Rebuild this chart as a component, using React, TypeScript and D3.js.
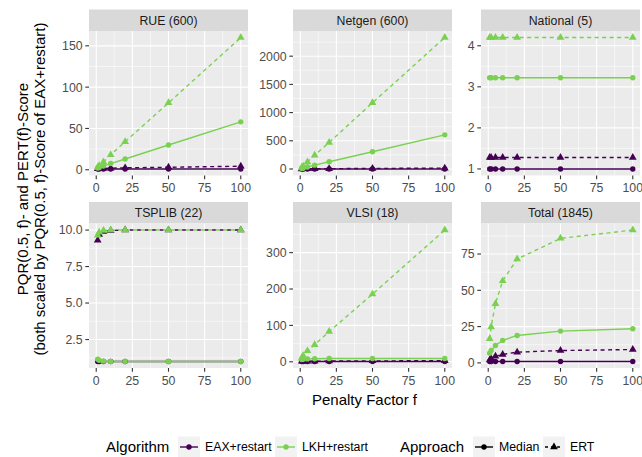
import React from 'react';
import * as d3 from 'd3';

const penaltyFactors = [1, 2, 5, 10, 20, 50, 100];
const facetTitles = ['RUE (600)', 'Netgen (600)', 'National (5)', 'TSPLIB (22)', 'VLSI (18)', 'Total (1845)'];
const algorithms = ['EAX+restart', 'LKH+restart'];
const approaches = ['Median', 'ERT'];
const xTicks = [0, 25, 50, 75, 100];

// RUE (600)
const rueEaxMedian = [1, 1, 1, 1, 1, 1, 1];
const rueEaxErt = [1.3, 1.4, 1.6, 1.9, 2.3, 3.0, 4.3];
const rueLkhMedian = [2, 2.6, 4.5, 7.5, 13, 30, 58];
const rueLkhErt = [3, 5, 9.5, 18, 34, 81, 160];
const rueTicks = [0, 50, 100, 150];

// Netgen (600)
const netgenEaxMedian = [1, 1, 1, 1, 1, 1, 1];
const netgenEaxErt = [1.5, 2, 3, 4, 6, 10, 15];
const netgenLkhMedian = [8, 14, 34, 68, 128, 305, 605];
const netgenLkhErt = [25, 50, 125, 245, 470, 1175, 2330];
const netgenTicks = [0, 500, 1000, 1500, 2000];

// National (5)
const nationalEaxMedian = [1, 1, 1, 1, 1, 1, 1];
const nationalEaxErt = [1.28, 1.28, 1.28, 1.28, 1.28, 1.28, 1.28];
const nationalLkhMedian = [3.22, 3.22, 3.22, 3.22, 3.22, 3.22, 3.22];
const nationalLkhErt = [4.2, 4.2, 4.2, 4.2, 4.2, 4.2, 4.2];
const nationalTicks = [1, 2, 3, 4];

// TSPLIB (22)
const tsplibEaxMedian = [1, 1, 1, 1, 1, 1, 1];
const tsplibEaxErt = [9.3, 9.7, 9.9, 9.97, 10, 10, 10];
const tsplibLkhMedian = [1.15, 1.08, 1.02, 1.0, 1.0, 1.0, 1.0];
const tsplibLkhErt = [9.65, 9.85, 9.97, 10, 10, 10, 10];
const tsplibTicks = [2.5, 5.0, 7.5, 10.0];

// VLSI (18)
const vlsiEaxMedian = [1, 1, 1, 1, 1, 1, 1];
const vlsiEaxErt = [1.2, 1.3, 1.5, 1.8, 2.0, 2.5, 3];
const vlsiLkhMedian = [6, 7, 8, 8.5, 9, 9, 9];
const vlsiLkhErt = [10, 17, 30, 47, 83, 186, 362];
const vlsiTicks = [0, 100, 200, 300];

// Total (1845)
const totalEaxMedian = [1, 1, 1, 1, 1, 1, 1];
const totalEaxErt = [2, 3, 4.6, 5.8, 7.4, 8.5, 9.2];
const totalLkhMedian = [6.7, 8.5, 12, 15.5, 18.9, 21.9, 23.5];
const totalLkhErt = [16.6, 24.7, 40.8, 56.5, 71.5, 85.8, 91.5];
const totalTicks = [0, 25, 50, 75];

const facetSeries = [
  [rueEaxMedian, rueEaxErt, rueLkhMedian, rueLkhErt],
  [netgenEaxMedian, netgenEaxErt, netgenLkhMedian, netgenLkhErt],
  [nationalEaxMedian, nationalEaxErt, nationalLkhMedian, nationalLkhErt],
  [tsplibEaxMedian, tsplibEaxErt, tsplibLkhMedian, tsplibLkhErt],
  [vlsiEaxMedian, vlsiEaxErt, vlsiLkhMedian, vlsiLkhErt],
  [totalEaxMedian, totalEaxErt, totalLkhMedian, totalLkhErt],
];
const facetTicks = [rueTicks, netgenTicks, nationalTicks, tsplibTicks, vlsiTicks, totalTicks];

const COLORS = ['#440154', '#7AD151'];
const FONT = '"Liberation Sans", Arial, Helvetica, sans-serif';
const DASH = '4,3.5';
const SMALL = 12.3;
const TITLE = 15;

const triPath = d3.symbol(d3.symbolTriangle, 26)() as string;

function minorOf(ticks: number[], lo: number, hi: number) {
  const step = ticks[1] - ticks[0];
  const out: number[] = [];
  for (let i = -1; i < ticks.length; i++) {
    const m = ticks[0] + step * i + step / 2;
    if (m >= lo && m <= hi) out.push(m);
  }
  return out;
}

function Panel({ idx, left, stripTop }: { idx: number; left: number; stripTop: number }) {
  const pw = 159;
  const sh = 21.5;
  const ph = 144.5;
  const top = stripTop + sh;
  const bottom = top + ph;
  const series = facetSeries[idx];
  const ticks = facetTicks[idx];
  const all = series.flat();
  const [mn, mx] = d3.extent(all) as [number, number];
  const pad = (mx - mn) * 0.05 || 0.1;
  const y = d3.scaleLinear().domain([mn - pad, mx + pad]).range([bottom, top]);
  const x = d3.scaleLinear().domain([-5, 105]).range([left, left + pw]);
  const yMinor = minorOf(ticks, mn - pad, mx + pad);
  const xMinor = minorOf(xTicks, -5, 105);
  const fmt = idx === 3 ? d3.format('.1f') : d3.format('d');
  const line = d3.line<number>().x((_, i) => x(penaltyFactors[i])).y((v) => y(v));

  return (
    <g>
      <rect x={left} y={stripTop} width={pw} height={sh} fill="#D9D9D9" />
      <text x={left + pw / 2} y={stripTop + sh / 2} dy="0.36em" textAnchor="middle" fontSize={SMALL} fill="#1A1A1A">
        {facetTitles[idx]}
      </text>
      <rect x={left} y={top} width={pw} height={ph} fill="#EBEBEB" />
      {yMinor.map((t) => (
        <line key={'ym' + t} x1={left} x2={left + pw} y1={y(t)} y2={y(t)} stroke="#fff" strokeWidth={0.55} />
      ))}
      {xMinor.map((t) => (
        <line key={'xm' + t} y1={top} y2={bottom} x1={x(t)} x2={x(t)} stroke="#fff" strokeWidth={0.55} />
      ))}
      {ticks.map((t) => (
        <line key={'yM' + t} x1={left} x2={left + pw} y1={y(t)} y2={y(t)} stroke="#fff" strokeWidth={1.1} />
      ))}
      {xTicks.map((t) => (
        <line key={'xM' + t} y1={top} y2={bottom} x1={x(t)} x2={x(t)} stroke="#fff" strokeWidth={1.1} />
      ))}
      {series.map((s, k) => (
        <path
          key={'l' + k}
          d={line(s) as string}
          fill="none"
          stroke={COLORS[Math.floor(k / 2)]}
          strokeWidth={1.4}
          strokeDasharray={k % 2 === 1 ? DASH : undefined}
        />
      ))}
      {series.map((s, k) =>
        s.map((v, i) =>
          k % 2 === 0 ? (
            <circle key={'p' + k + '-' + i} cx={x(penaltyFactors[i])} cy={y(v)} r={2.7} fill={COLORS[Math.floor(k / 2)]} />
          ) : (
            <path
              key={'p' + k + '-' + i}
              d={triPath}
              transform={`translate(${x(penaltyFactors[i])},${y(v)})`}
              fill={COLORS[Math.floor(k / 2)]}
            />
          )
        )
      )}
      {ticks.map((t) => (
        <g key={'yt' + t}>
          <line x1={left - 3.7} x2={left} y1={y(t)} y2={y(t)} stroke="#333" strokeWidth={1.1} />
          <text x={left - 6.4} y={y(t)} dy="0.36em" textAnchor="end" fontSize={SMALL} fill="#4D4D4D">
            {fmt(t)}
          </text>
        </g>
      ))}
      {xTicks.map((t) => (
        <g key={'xt' + t}>
          <line y1={bottom} y2={bottom + 3.7} x1={x(t)} x2={x(t)} stroke="#333" strokeWidth={1.1} />
          <text x={x(t)} y={bottom + 16.8} textAnchor="middle" fontSize={SMALL} fill="#4D4D4D">
            {t}
          </text>
        </g>
      ))}
    </g>
  );
}

export default function App() {
  const W = 642;
  const H = 457;
  const colLeft = [89, 293, 481];
  const rowStrip = [9.5, 202];
  const legendY = 447;
  const keys = [
    { x: 178, label: algorithms[0], lx: 205, color: COLORS[0], dash: false, shape: 'circle' },
    { x: 275, label: algorithms[1], lx: 302, color: COLORS[1], dash: false, shape: 'circle' },
    { x: 473, label: approaches[0], lx: 499, color: '#000', dash: false, shape: 'circle' },
    { x: 543, label: approaches[1], lx: 570, color: '#000', dash: true, shape: 'tri' },
  ];
  return (
    <svg width={W} height={H} style={{ position: 'absolute', left: 0, top: 0, fontFamily: FONT, background: '#fff' }}>
      <rect x={0} y={0} width={W} height={H} fill="#fff" />
      {facetTitles.map((_, i) => (
        <Panel key={i} idx={i} left={colLeft[i % 3]} stripTop={rowStrip[Math.floor(i / 3)]} />
      ))}
      <text x={364.5} y={405} textAnchor="middle" fontSize={TITLE} fill="#000">
        Penalty Factor f
      </text>
      <text transform="translate(28,189) rotate(-90)" textAnchor="middle" fontSize={TITLE} fill="#000">
        PQR(0.5, f)- and PERT(f)-Score
      </text>
      <text transform="translate(45,189) rotate(-90)" textAnchor="middle" fontSize={TITLE} fill="#000">
        (both scaled by PQR(0.5, f)-Score of EAX+restart)
      </text>
      <text x={106} y={legendY} dy="0.36em" fontSize={TITLE} fill="#000">
        Algorithm
      </text>
      <text x={400} y={legendY} dy="0.36em" fontSize={TITLE} fill="#000">
        Approach
      </text>
      {keys.map((k, i) => (
        <g key={'k' + i}>
          <rect x={k.x} y={legendY - 10.5} width={22} height={21} fill="#F2F2F2" />
          <line
            x1={k.x + 2}
            x2={k.x + 20}
            y1={legendY}
            y2={legendY}
            stroke={k.color}
            strokeWidth={1.4}
            strokeDasharray={k.dash ? '3,3' : undefined}
          />
          {k.shape === 'tri' ? (
            <path d={triPath} transform={`translate(${k.x + 11},${legendY})`} fill={k.color} />
          ) : (
            <circle cx={k.x + 11} cy={legendY} r={2.7} fill={k.color} />
          )}
          <text x={k.lx} y={legendY} dy="0.36em" fontSize={SMALL} fill="#000">
            {k.label}
          </text>
        </g>
      ))}
    </svg>
  );
}
